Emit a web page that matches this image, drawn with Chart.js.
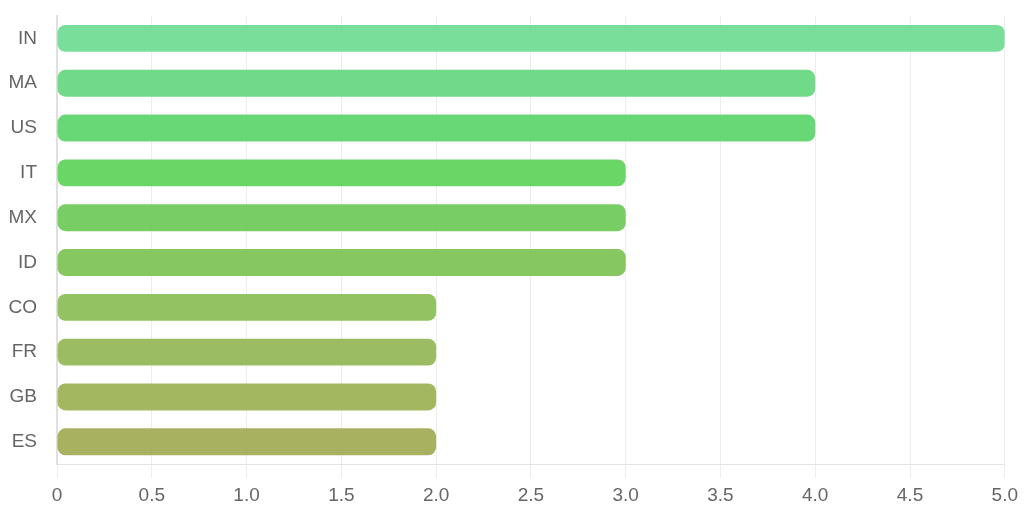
<!DOCTYPE html>
<html>
<head>
<meta charset="utf-8">
<script src="https://cdn.jsdelivr.net/npm/chart.js@4"></script>
<style>
  html, body { margin: 0; padding: 0; background: #fff; }
  #wrap { width: 1024px; height: 512px; }
</style>
</head>
<body>
<div id="wrap"><canvas id="chart"></canvas></div>
<script>
const countries = ["IN", "MA", "US", "IT", "MX", "ID", "CO", "FR", "GB", "ES"];
const counts = [5, 4, 4, 3, 3, 3, 2, 2, 2, 2];
const xTicks = [0, 0.5, 1, 1.5, 2, 2.5, 3, 3.5, 4, 4.5, 5];
const barColors = [
  'rgba(112, 220, 148, 0.94)',
  'rgba(104, 216, 130, 0.94)',
  'rgba(94, 214, 108, 0.94)',
  'rgba(97, 211, 92, 0.94)',
  'rgba(112, 203, 90, 0.94)',
  'rgba(128, 196, 86, 0.94)',
  'rgba(139, 190, 88, 0.94)',
  'rgba(149, 184, 88, 0.94)',
  'rgba(157, 177, 86, 0.94)',
  'rgba(161, 172, 86, 0.94)'
];

Chart.defaults.font.family = '"Liberation Sans", Helvetica, Arial, sans-serif';
Chart.defaults.font.size = 19;
Chart.defaults.color = '#666';

const ctx = document.getElementById('chart').getContext('2d');
const myChart = new Chart(ctx, {
    type: 'bar',
    data: {
        labels: countries,
        datasets: [{
            data: counts,
            backgroundColor: barColors,
            borderRadius: 8,
            borderSkipped: false,
            barPercentage: 0.75,
            categoryPercentage: 0.8
        }]
    },
    options: {
        indexAxis: 'y',
        responsive: true,
        maintainAspectRatio: false,
        animation: false,
        layout: { padding: { top: 16, right: 6, left: 0, bottom: -1 } },
        plugins: {
            legend: { display: false },
            tooltip: { enabled: false }
        },
        scales: {
            x: {
                min: 0,
                max: 5,
                afterBuildTicks: (scale) => {
                    scale.ticks = xTicks.map(v => ({ value: v }));
                },
                ticks: {
                    padding: 6,
                    callback: (v) => v === 0 ? '0' : v.toFixed(1)
                },
                grid: { color: 'rgba(0,0,0,0.07)', tickLength: 14 },
                border: { color: '#e4e4e4', width: 1 }
            },
            y: {
                afterFit: (scale) => {
                    scale.width = 57;
                    scale.paddingTop = 0;
                    scale.paddingBottom = 0;
                },
                ticks: { padding: 12 },
                grid: { display: false },
                border: { display: true, color: '#e0e0e0', width: 2 }
            }
        }
    }
});
</script>
</body>
</html>
